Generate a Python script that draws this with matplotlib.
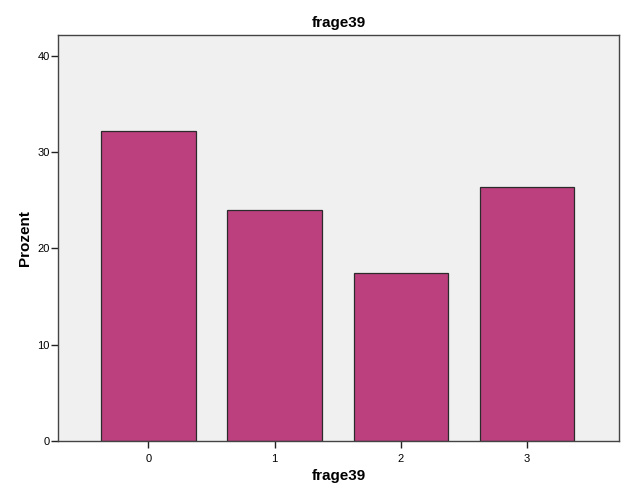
import matplotlib
matplotlib.use("Agg")
import matplotlib.pyplot as plt

categories = ["0", "1", "2", "3"]
percent = [32.2, 24.0, 17.45, 26.4]

plt.rcParams["font.family"] = ["Liberation Sans", "DejaVu Sans"]

fig = plt.figure(figsize=(6.26, 5.01), dpi=100)
ax = fig.add_axes([58 / 626, 1 - 441 / 501, 561 / 626, 406 / 501])
ax.set_facecolor("#f0f0f0")

positions = list(range(len(categories)))
ax.bar(positions, percent, width=0.75, color="#bc407e", edgecolor="#2b2b2b", linewidth=0.9, zorder=2)

ax.set_xlim(-0.717, 3.728)
ax.set_ylim(0, 42.18)
ax.set_xticks(positions, categories)
ax.set_yticks([0, 10, 20, 30, 40])

for side in ax.spines.values():
    side.set_color("#444444")
    side.set_linewidth(1.0)

ax.tick_params(axis="both", direction="out", length=5, width=1.0, color="#222222", labelsize=8)
ax.tick_params(axis="x", pad=4)
ax.tick_params(axis="y", pad=1)

ax.set_title("frage39", fontsize=11, fontweight="bold", pad=6)
ax.set_xlabel("frage39", fontsize=11, fontweight="bold", labelpad=4)
ax.set_ylabel("Prozent", fontsize=11, fontweight="bold", labelpad=4)

fig.savefig("out.png", dpi=100)
